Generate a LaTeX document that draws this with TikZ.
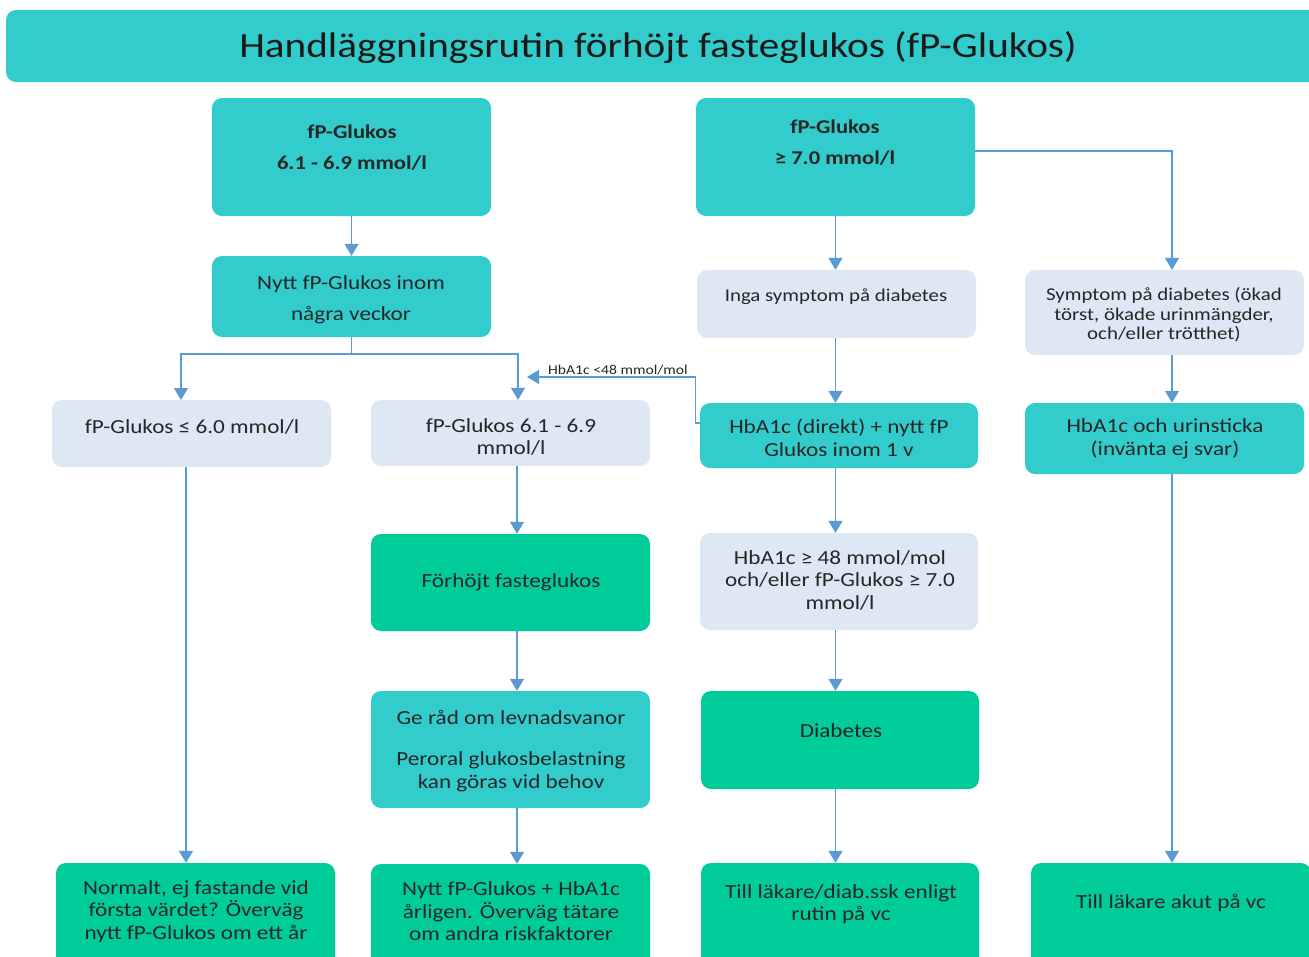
\documentclass[tikz,border=0pt]{standalone}
\usepackage{fontspec}
\setmainfont[FakeStretch=1.16]{Carlito}
\usetikzlibrary{arrows.meta}
\definecolor{teal1}{HTML}{33CCCC}
\definecolor{lblue}{HTML}{DEE8F4}
\definecolor{green1}{HTML}{00CC99}
\definecolor{arrc}{HTML}{5B9BD5}
\tikzset{
  boxT/.style={draw=none,fill=teal1,rounded corners=10pt,inner sep=0pt},
  boxL/.style={draw=none,fill=lblue,rounded corners=10pt,inner sep=0pt},
  boxG/.style={draw=none,fill=green1,rounded corners=10pt,inner sep=0pt},
  txt/.style={align=center,inner sep=0pt,yshift=-1.5pt,text=black!85,font=\fontsize{20}{22.5}\selectfont},
  txts/.style={align=center,inner sep=0pt,yshift=-1.5pt,text=black!85,font=\fontsize{18}{19.5}\selectfont},
  txtb/.style={align=center,inner sep=0pt,yshift=-1.5pt,text=black!85,font=\bfseries\fontsize{19.5}{31}\selectfont},
  arr/.style={draw=arrc,line width=1.3pt,-{Triangle[width=14pt,length=12pt]}},
  ln/.style={draw=arrc,line width=1.3pt}
}
\newcommand{\bx}[6]{\node[#1,minimum width=#4-#2,minimum height=#5-#3] (#6) at ({(#2+#4)/2},{(#3+#5)/2}) {};}
\begin{document}
\begin{tikzpicture}[x=1pt,y=-1pt]
\useasboundingbox (0,0) rectangle (1309,956);
\clip (0,0) rectangle (1309,956);
\fill[white] (0,0) rectangle (1309,956);
% title
\bx{boxT}{6}{10}{1325}{82}{title}
\node[inner sep=0pt,yshift=-2pt,text=black!90,font=\fontsize{35.5}{40}\selectfont] (titlet) at (658,46) {Handläggningsrutin förhöjt fasteglukos (fP-Glukos)};
% boxes
\bx{boxT}{212}{98}{491}{216}{A}
\bx{boxT}{696}{98}{975}{216}{B}
\bx{boxT}{212}{256}{491}{337}{C}
\bx{boxL}{697}{270}{976}{338}{D}
\bx{boxL}{1025}{270}{1304}{355}{E}
\bx{boxL}{52}{400}{331}{467}{F}
\bx{boxL}{371}{400}{650}{466}{G}
\bx{boxT}{700}{403}{978}{468}{H}
\bx{boxT}{1025}{403}{1304}{474}{I}
\bx{boxG}{371}{534}{650}{631}{J}
\bx{boxL}{700}{533}{978}{630}{K}
\bx{boxT}{371}{691}{650}{808}{L}
\bx{boxG}{701}{691}{979}{789}{M}
\bx{boxG}{56}{863}{335}{990}{N}
\bx{boxG}{371}{864}{650}{990}{O}
\bx{boxG}{701}{863}{979}{990}{P}
\bx{boxG}{1031}{863}{1311}{990}{Q}
% texts
\node[txtb] (At) at (352,146.5) {fP-Glukos\\6.1 - 6.9 mmol/l};
\node[txtb] (Bt) at (835,141.5) {fP-Glukos\\≥ 7.0 mmol/l};
\node[txt,font=\fontsize{20}{31}\selectfont] (Ct) at (351,298.5) {Nytt fP-Glukos inom\\några veckor};
\node[txts] (Dt) at (836,295) {Inga symptom på diabetes};
\node[txts] (Et) at (1164,313.5) {Symptom på diabetes (ökad\\törst, ökade urinmängder,\\och/eller trötthet)};
\node[txt] (Ft) at (192,425) {fP-Glukos ≤ 6.0 mmol/l};
\node[txt] (Gt) at (511,435.5) {fP-Glukos 6.1 - 6.9\\mmol/l};
\node[txt] (Ht) at (839,436.5) {HbA1c (direkt) + nytt fP\\Glukos inom 1 v};
\node[txt] (It) at (1165,437.5) {HbA1c och urinsticka\\(invänta ej svar)};
\node[txt] (Jt) at (511,581) {Förhöjt fasteglukos};
\node[txt] (Kt) at (840,578.5) {HbA1c ≥ 48 mmol/mol\\och/eller fP-Glukos ≥ 7.0\\mmol/l};
\node[txt] (Lt1) at (511,716) {Ge råd om levnadsvanor};
\node[txt] (Lt2) at (511,770.5) {Peroral glukosbelastning\\kan göras vid behov};
\node[txt] (Mt) at (841,729) {Diabetes};
\node[txt] (Nt) at (196,910) {Normalt, ej fastande vid\\första värdet? Överväg\\nytt fP-Glukos om ett år};
\node[txt] (Ot) at (511,910) {Nytt fP-Glukos + HbA1c\\årligen. Överväg tätare\\om andra riskfaktorer};
\node[txt] (Pt) at (841,902.5) {Till läkare/diab.ssk enligt\\rutin på vc};
\node[txt] (Qt) at (1171,902) {Till läkare akut på vc};
% connectors
\coordinate (split) at (351.5,354);
\coordinate (fx) at (186,0);
\coordinate (gx) at (518,0);
\coordinate (ex) at (1172,0);
\coordinate (fb) at (527,377);
\draw[arr] (A.south) -- (C.north);
\draw[ln] (C.south) -- (split);
\draw[arr] (split) -| (181,400);
\draw[arr] (split) -| (G.north -| gx);
\draw[arr] (B.south) -- (B.south |- D.north);
\draw[arr] (B.east |- 0,151) -| (E.north -| ex);
\draw[arr] (D.south -| B.south) -- (H.north -| B.south);
\draw[arr] ([yshift=12.5pt]H.west) -- ++(-4,0) |- (fb);
\node[inner sep=0pt,yshift=-1pt,text=black!85,font=\fontsize{13.5}{15}\selectfont] (fbl) at (618,369) {HbA1c <48 mmol/mol};
\draw[arr] (E.south -| ex) -- (I.north -| ex);
\draw[arr] (F.south -| fx) -- (N.north -| fx);
\draw[arr] (G.south -| 517,0) -- (J.north -| 517,0);
\draw[arr] (J.south -| 517,0) -- (L.north -| 517,0);
\draw[arr] (L.south -| 517,0) -- (O.north -| 517,0);
\draw[arr] (H.south -| B.south) -- (K.north -| B.south);
\draw[arr] (K.south -| B.south) -- (M.north -| B.south);
\draw[arr] (M.south -| B.south) -- (P.north -| B.south);
\draw[arr] (I.south -| ex) -- (Q.north -| ex);
\end{tikzpicture}
\end{document}
